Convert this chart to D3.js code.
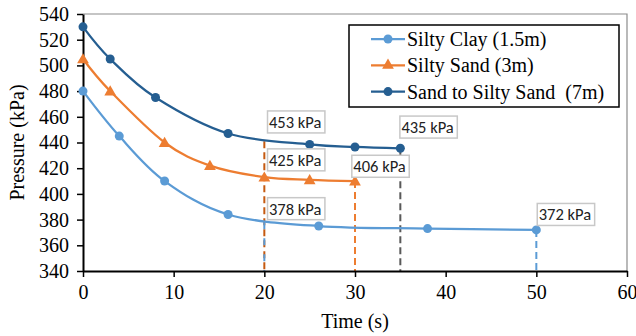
<!DOCTYPE html>
<html>
<head>
<meta charset="utf-8">
<script src="https://cdn.jsdelivr.net/npm/d3@7"></script>
<style>
  body { margin: 0; background: #fff; }
  svg { display: block; }
</style>
</head>
<body>
<svg id="chart" width="636" height="336"></svg>
<script>
// series: time (s) and pressure (kPa)
const clayTime = [0, 4, 9, 16, 26, 38, 50];
const clayPressure = [480, 445, 410, 384, 375, 373, 372];
const sandTime = [0, 3, 9, 14, 20, 25, 30];
const sandPressure = [505, 480, 440, 422, 413, 411, 410];
const deepTime = [0, 3, 8, 16, 25, 30, 35];
const deepPressure = [530, 505, 475, 447, 438.5, 436.5, 435.5];

const seriesNames = ['Silty Clay (1.5m)', 'Silty Sand (3m)', 'Sand to Silty Sand  (7m)'];
const xTicks = [0, 10, 20, 30, 40, 50, 60];
const yTicks = [340, 360, 380, 400, 420, 440, 460, 480, 500, 520, 540];

// vertical dashed drop lines: time and the pressure where they start
const dropTime = [20, 20, 30, 35, 50];
const dropFrom = [441, 378, 410, 435.5, 372];

// value call-outs: text, left edge time, centre pressure
const calloutText = ['453 kPa', '425 kPa', '378 kPa', '406 kPa', '435 kPa', '372 kPa'];
const calloutTime = [20.35, 20.35, 20.35, 29.65, 34.95, 50.1];
const calloutPressure = [456, 426.5, 388.5, 421.5, 452, 384];

const colors = ['#5B9BD5', '#ED7D31', '#255E91'];
const dropColors = ['#C55A11', '#5B9BD5', '#ED7D31', '#595959', '#5B9BD5'];

const margin = { top: 14, right: 9, bottom: 65, left: 83 };
const W = 636, H = 336;

const svg = d3.select('#chart');

const x = d3.scaleLinear().domain([0, 60]).range([margin.left, W - margin.right]);
const y = d3.scaleLinear().domain([340, 540]).range([H - margin.bottom, margin.top]);

const SERIF = 'Liberation Serif';

// plot frame (top/right in grey)
svg.append('path')
  .attr('d', `M${x(0)},${y(540)}H${x(60)}V${y(340)}`)
  .attr('fill', 'none')
  .attr('stroke', '#8c8c8c')
  .attr('stroke-width', 1.2);

// dashed drop lines, drawn first so series sit on top
svg.append('g')
  .selectAll('line')
  .data(dropTime)
  .join('line')
  .attr('x1', d => x(d))
  .attr('x2', d => x(d))
  .attr('y1', (d, i) => y(dropFrom[i]))
  .attr('y2', y(340))
  .attr('stroke', (d, i) => dropColors[i])
  .attr('stroke-width', 2)
  .attr('stroke-dasharray', (d, i) => i === 1 ? '7,9' : '7,4');

// axes
const xAxis = svg.append('g')
  .attr('transform', `translate(0,${y(340)})`)
  .call(d3.axisBottom(x).tickValues(xTicks).tickSizeInner(6).tickSizeOuter(0).tickPadding(8));
const yAxis = svg.append('g')
  .attr('transform', `translate(${x(0)},0)`)
  .call(d3.axisLeft(y).tickValues(yTicks).tickSizeInner(6).tickSizeOuter(0).tickPadding(8));

[xAxis, yAxis].forEach(a => {
  a.attr('font-family', SERIF).attr('font-size', 20);
  a.select('.domain').attr('stroke', '#000').attr('stroke-width', 2);
  a.selectAll('.tick line').attr('stroke', '#000').attr('stroke-width', 1.5);
  a.selectAll('.tick text').attr('fill', '#000');
});
xAxis.selectAll('.tick text').attr('dy', '0.72em');

// axis titles
svg.append('text')
  .attr('x', (x(0) + x(60)) / 2)
  .attr('y', 328)
  .attr('text-anchor', 'middle')
  .attr('font-family', SERIF)
  .attr('font-size', 20)
  .text('Time (s)');

svg.append('text')
  .attr('transform', `translate(24,${(y(340) + y(540)) / 2}) rotate(-90)`)
  .attr('text-anchor', 'middle')
  .attr('font-family', SERIF)
  .attr('font-size', 20)
  .text('Pressure (kPa)');

// series
const series = [
  { times: clayTime, values: clayPressure, marker: 'circle' },
  { times: sandTime, values: sandPressure, marker: 'triangle' },
  { times: deepTime, values: deepPressure, marker: 'circle' }
];

const line = d3.line()
  .x(d => x(d[0]))
  .y(d => y(d[1]))
  .curve(d3.curveCatmullRom.alpha(0));

const tri = d3.symbol().type(d3.symbolTriangle).size(60);

series.forEach((s, i) => {
  const pts = s.times.map((t, j) => [t, s.values[j]]);
  svg.append('path')
    .datum(pts)
    .attr('d', line)
    .attr('fill', 'none')
    .attr('stroke', colors[i])
    .attr('stroke-width', 2.25);

  const g = svg.append('g');
  if (s.marker === 'circle') {
    g.selectAll('circle')
      .data(pts)
      .join('circle')
      .attr('cx', d => x(d[0]))
      .attr('cy', d => y(d[1]))
      .attr('r', 4.5)
      .attr('fill', colors[i]);
  } else {
    g.selectAll('path')
      .data(pts)
      .join('path')
      .attr('d', tri)
      .attr('transform', d => `translate(${x(d[0])},${y(d[1]) + 1})`)
      .attr('fill', colors[i]);
  }
});

// call-out boxes
const callouts = svg.append('g')
  .selectAll('g')
  .data(calloutText)
  .join('g')
  .attr('transform', (d, i) => `translate(${x(calloutTime[i])},${y(calloutPressure[i])})`);

callouts.append('text')
  .attr('x', 1.5)
  .attr('dy', '0.36em')
  .attr('font-family', 'Carlito')
  .attr('font-size', 16.5)
  .attr('fill', '#222')
  .text(d => d);

callouts.insert('rect', 'text')
  .each(function () {
    const w = this.parentNode.querySelector('text').getComputedTextLength();
    d3.select(this)
      .attr('x', 0)
      .attr('y', -11)
      .attr('width', w + 5)
      .attr('height', 22);
  })
  .attr('fill', '#fff')
  .attr('stroke', '#c8c8c8')
  .attr('stroke-width', 1.5);

// legend
const legend = svg.append('g').attr('transform', 'translate(349,25)');
legend.append('rect')
  .attr('width', 270)
  .attr('height', 82)
  .attr('fill', '#fff')
  .attr('stroke', '#000')
  .attr('stroke-width', 1.5);

const rows = legend.selectAll('g.row')
  .data(seriesNames)
  .join('g')
  .attr('class', 'row')
  .attr('transform', (d, i) => `translate(0,${14 + i * 26.3})`);

rows.append('line')
  .attr('x1', 22).attr('x2', 56)
  .attr('stroke', (d, i) => colors[i])
  .attr('stroke-width', 2.25);

rows.each(function (d, i) {
  const r = d3.select(this);
  if (i === 1) {
    r.append('path').attr('d', tri).attr('transform', 'translate(39,0)').attr('fill', colors[i]);
  } else {
    r.append('circle').attr('cx', 39).attr('r', 4.5).attr('fill', colors[i]);
  }
});

rows.append('text')
  .attr('x', 58)
  .attr('dy', '0.35em')
  .attr('font-family', SERIF)
  .attr('font-size', 20)
  .style('white-space', 'pre')
  .text(d => d);
</script>
</body>
</html>
